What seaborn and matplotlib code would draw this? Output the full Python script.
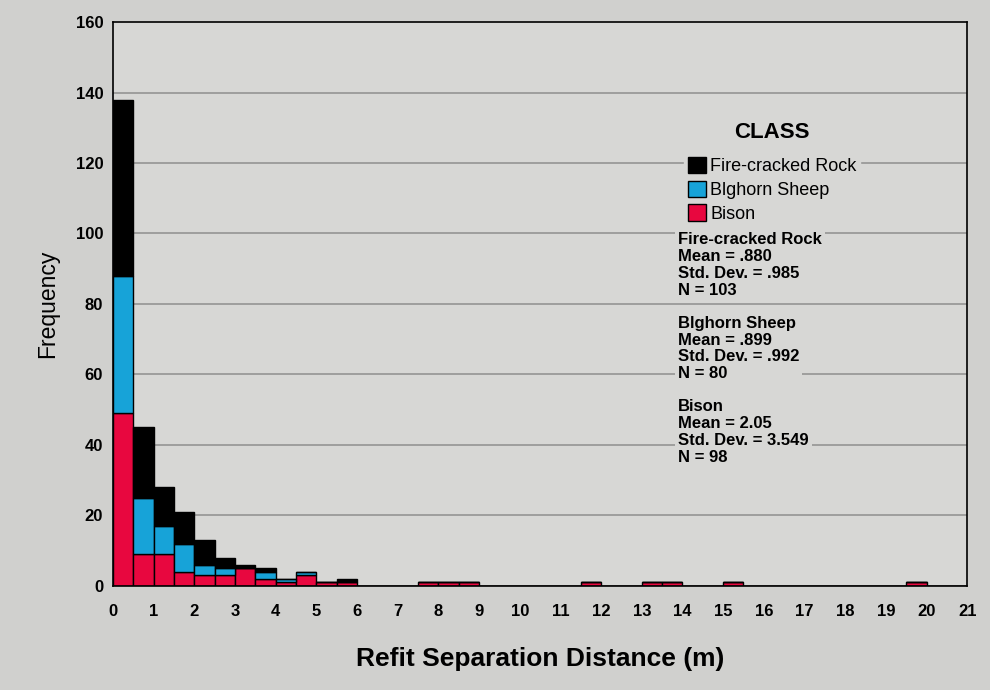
import numpy as np
import pandas as pd
import matplotlib
matplotlib.use("Agg")
import matplotlib.pyplot as plt
import seaborn as sns
from matplotlib.patches import Patch

# bin lower edges (0.5 m bins) and counts per class
bin_left = [0.0, 0.5, 1.0, 1.5, 2.0, 2.5, 3.0, 3.5, 4.0, 4.5, 5.0, 5.5,
            7.5, 8.0, 8.5, 11.5, 13.0, 13.5, 15.0, 19.5]
fire_rock = [50, 20, 11, 9, 7, 3, 1, 1, 0, 0, 0, 1,
             0, 0, 0, 0, 0, 0, 0, 0]
sheep = [39, 16, 8, 8, 3, 2, 0, 2, 1, 1, 0, 0,
         0, 0, 0, 0, 0, 0, 0, 0]
bison = [49, 9, 9, 4, 3, 3, 5, 2, 1, 3, 1, 1,
         1, 1, 1, 1, 1, 1, 1, 1]

classes = ["Fire-cracked Rock", "Blghorn Sheep", "Bison"]
colors = ["#000000", "#17a3d8", "#e8073f"]
stats = [
    ("Fire-cracked Rock", ".880", ".985", "103"),
    ("Blghorn Sheep", ".899", ".992", "80"),
    ("Bison", "2.05", "3.549", "98"),
]

rows = []
for name, counts in zip(classes, [fire_rock, sheep, bison]):
    for b, c in zip(bin_left, counts):
        rows.append({"dist": b + 0.25, "count": c, "class": name})
df = pd.DataFrame(rows)

sns.set_style("white")
plt.rcParams["font.family"] = ["Liberation Sans", "DejaVu Sans"]
plt.rcParams["text.color"] = "black"
plt.rcParams["axes.labelcolor"] = "black"
plt.rcParams["xtick.color"] = "black"
plt.rcParams["ytick.color"] = "black"

bg = "#d7d7d5"
fig = plt.figure(figsize=(9.9, 6.9), dpi=100, facecolor="#d0d0ce")
ax = fig.add_axes([0.114, 0.151, 0.863, 0.817])
ax.set_facecolor(bg)

sns.histplot(data=df, x="dist", weights="count", hue="class",
             hue_order=classes, palette=colors, multiple="stack",
             binwidth=0.5, binrange=(0, 21), alpha=1, edgecolor="black",
             linewidth=1, legend=False, ax=ax, zorder=3)

ax.set_xlim(0, 21)
ax.set_ylim(0, 160)
ax.set_xticks(range(0, 22))
ax.set_yticks(range(0, 161, 20))
for y in range(20, 160, 20):
    ax.axhline(y, color="#8e8e8e", lw=1.1, zorder=1)
for s in ax.spines.values():
    s.set_color("black")
    s.set_linewidth(1.2)
    s.set_zorder(4)

ax.tick_params(axis="both", direction="out", length=4, width=0.8,
               color="#666666", labelsize=12)
ax.tick_params(axis="x", pad=9)
ax.tick_params(axis="y", pad=3)
for lab in ax.get_xticklabels() + ax.get_yticklabels():
    lab.set_fontweight("bold")

ax.set_xlabel("Refit Separation Distance (m)", fontsize=19,
              fontweight="bold", labelpad=20)
ax.set_ylabel("Frequency", fontsize=16.5, labelpad=12)

handles = [Patch(facecolor=c, edgecolor="black", label=n)
           for n, c in zip(classes, colors)]
leg = ax.legend(handles=handles, title="CLASS", loc="upper left",
                bbox_to_anchor=(0.658, 0.845), frameon=True, fontsize=13,
                handlelength=1.0, handleheight=1.0, handletextpad=0.25,
                labelspacing=0.3, borderpad=0.2)
leg.get_title().set_fontweight("bold")
leg.get_title().set_fontsize(16)
leg._legend_box.sep = 10
leg.get_frame().set_facecolor(bg)
leg.get_frame().set_edgecolor(bg)
leg.get_frame().set_alpha(1)
leg.set_zorder(5)

y0 = 0.627
for name, mean, sd, n in stats:
    txt = f"{name}\nMean = {mean}\nStd. Dev. = {sd}\nN = {n}"
    ax.text(0.6616, y0, txt, transform=ax.transAxes, fontsize=12,
            fontweight="bold", va="top", ha="left", linespacing=1.15,
            zorder=5, bbox=dict(facecolor=bg, edgecolor="none", pad=2))
    y0 -= 0.148

fig.savefig("out.png", dpi=100, facecolor=fig.get_facecolor())
